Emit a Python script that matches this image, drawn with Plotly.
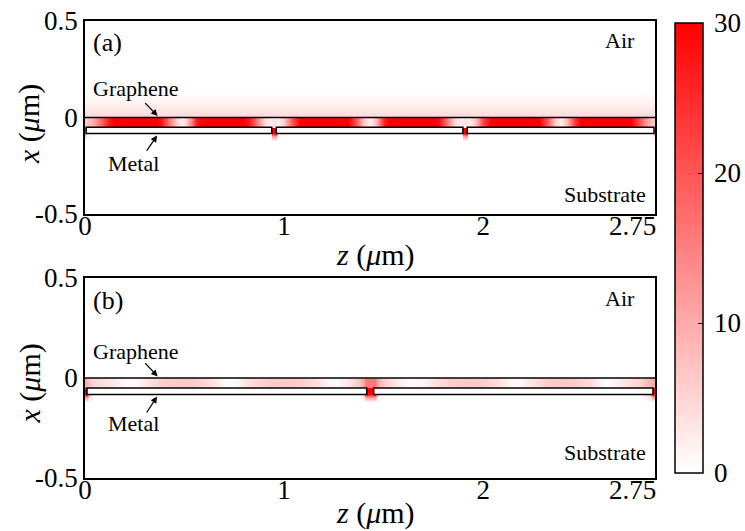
import plotly.graph_objects as go

# ---------------- data ----------------
# panel (a): samples along z (um), field in the graphene-metal gap, field in the metal slots
z_a = [0.000, 0.004, 0.010, 0.040, 0.080, 0.120, 0.160, 0.220, 0.280, 0.340, 0.380, 0.420,
       0.460, 0.480, 0.500, 0.530, 0.560, 0.600, 0.660, 0.720, 0.780, 0.830, 0.870, 0.905,
       0.932, 0.940, 0.959, 0.967, 1.000, 1.040, 1.080, 1.140, 1.200, 1.260, 1.320, 1.360,
       1.400, 1.430, 1.460, 1.500, 1.540, 1.600, 1.660, 1.720, 1.780, 1.820, 1.860, 1.892,
       1.900, 1.918, 1.926, 1.960, 2.000, 2.040, 2.100, 2.160, 2.220, 2.280, 2.320, 2.360,
       2.390, 2.420, 2.460, 2.500, 2.560, 2.620, 2.680, 2.740, 2.780, 2.820, 2.850, 2.856,
       2.863]
strip_a = [6, 6, 7, 10, 18, 27, 32, 34, 34, 32, 28, 16,
           5, 2, 4, 14, 26, 32, 34, 34, 32, 26, 14, 4,
           2, 3, 3, 2, 6, 20, 30, 34, 34, 34, 30, 20,
           6, 2, 8, 26, 32, 34, 34, 33, 28, 16, 4, 2,
           3, 3, 2, 6, 22, 30, 34, 34, 34, 30, 20, 6,
           2, 8, 24, 32, 34, 34, 33, 30, 22, 12, 7, 6,
           6]
slot_a = [15, 10, 0, 0, 0, 0, 0, 0, 0, 0, 0, 0,
          0, 0, 0, 0, 0, 0, 0, 0, 0, 0, 0, 0,
          0, 30, 30, 0, 0, 0, 0, 0, 0, 0, 0, 0,
          0, 0, 0, 0, 0, 0, 0, 0, 0, 0, 0, 0,
          30, 30, 0, 0, 0, 0, 0, 0, 0, 0, 0, 0,
          0, 0, 0, 0, 0, 0, 0, 0, 0, 0, 0, 10,
          15]

# panel (b)
z_b = [0.000, 0.008, 0.020, 0.040, 0.080, 0.130, 0.200, 0.260, 0.330, 0.400, 0.480, 0.560,
       0.630, 0.700, 0.750, 0.830, 0.920, 1.000, 1.080, 1.160, 1.220, 1.260, 1.320, 1.370,
       1.395, 1.410, 1.455, 1.470, 1.500, 1.560, 1.630, 1.700, 1.770, 1.850, 1.920, 2.000,
       2.070, 2.140, 2.180, 2.240, 2.320, 2.390, 2.460, 2.540, 2.600, 2.650, 2.740, 2.800,
       2.840, 2.855, 2.863]
strip_b = [10, 9, 7, 5, 4, 3, 0.5, 1, 4, 6, 6.5, 6,
           4, 1, 0.5, 4, 6, 6.5, 6, 4, 1, 0.5, 3, 6,
           10, 16, 16, 10, 6, 3, 0.5, 1, 4, 6, 6.5, 6,
           4, 1, 0.5, 3, 6, 6.5, 6, 4, 0.5, 1, 4, 6,
           9, 10, 10]
slot_b = [30, 30, 8, 0, 0, 0, 0, 0, 0, 0, 0, 0,
          0, 0, 0, 0, 0, 0, 0, 0, 0, 0, 0, 0,
          3, 30, 30, 3, 0, 0, 0, 0, 0, 0, 0, 0,
          0, 0, 0, 0, 0, 0, 0, 0, 0, 0, 0, 0,
          8, 30, 30]

# field in the air just above graphene (uniform along z)
air_x = [0.004, 0.03, 0.06, 0.09, 0.12, 0.15]
air_a = [4.5, 3.4, 2.2, 1.2, 0.4, 0.0]
air_b = [0.0, 0.0, 0.0, 0.0, 0.0, 0.0]

# geometry
metal_a = [(0.006, 0.938), (0.961, 1.898), (1.920, 2.858)]
metal_b = [(0.010, 1.415), (1.450, 2.853)]
metal_bottom, metal_top = -0.083, -0.050
graphene_x = 0.0
z_range = [0, 2.863]
x_range = [-0.5, 0.5]
z_ticks = [0, 1, 2, 2.75]
z_ticktext = ["0", "1", "2", "2.75"]
x_ticks = [-0.5, 0, 0.5]
x_ticktext = ["-0.5", "0", "0.5"]
cb_ticks = [0, 10, 20, 30]
cb_ticktext = ["0", "10", "20", "30"]
z_title = "<i>z</i> (<i>μ</i>m)"
x_title = "<i>x</i> (<i>μ</i>m)"

GLOW = 0.4
FONT = "Liberation Serif, Times New Roman, serif"


def build(zp, strip, slot, air):
    n = len(zp)
    zeros = [0.0] * n
    ys = [-0.5, metal_bottom - 0.037, metal_bottom - 0.012, metal_bottom + 0.002,
          metal_top - 0.002, metal_top + 0.002, graphene_x - 0.004] + air_x + [0.5]
    rows = [zeros, zeros, [s * GLOW for s in slot], list(slot), list(slot),
            list(strip), list(strip)] + [[a] * n for a in air] + [zeros]
    return ys, rows


ys_a, za = build(z_a, strip_a, slot_a, air_a)
ys_b, zb = build(z_b, strip_b, slot_b, air_b)

W, H = 745, 531
ML, MR, MT, MB = 85, 90, 21, 53
PW, PH = W - ML - MR, H - MT - MB

def px_x(px):
    return (px - ML) / PW

def px_y(py):
    return (H - MB - py) / PH

cs = [[0, "rgb(255,255,255)"], [1, "rgb(255,0,0)"]]
cb_top, cb_bot = 23, 473
cb_len = cb_bot - cb_top
cb_yc = px_y((cb_top + cb_bot) / 2)
cb_x = px_x(675)

fig = go.Figure()
fig.add_trace(go.Heatmap(x=z_a, y=ys_a, z=za, zmin=0, zmax=30, colorscale=cs,
                         zsmooth="best", xaxis="x", yaxis="y", hoverinfo="skip",
                         colorbar=dict(thickness=28, len=cb_len, lenmode="pixels",
                                       x=cb_x, xanchor="left", xpad=0,
                                       y=cb_yc, yanchor="middle", ypad=0,
                                       outlinecolor="black", outlinewidth=1.5,
                                       tickvals=cb_ticks, ticks="inside", ticklen=5,
                                       tickcolor="black", tickwidth=1.3,
                                       showticklabels=False)))
fig.add_trace(go.Heatmap(x=z_b, y=ys_b, z=zb, zmin=0, zmax=30, colorscale=cs,
                         zsmooth="best", xaxis="x2", yaxis="y2", showscale=False,
                         hoverinfo="skip"))

top_dom = [px_y(214), 1.0]
bot_dom = [0.0, px_y(278)]

axfont = dict(family=FONT, size=27, color="black")
titfont = dict(family=FONT, size=30, color="black")
common_x = dict(range=z_range, tickvals=z_ticks, ticktext=z_ticktext, showgrid=False,
                zeroline=False, showline=True, mirror=True, linecolor="black",
                linewidth=1.5, ticks="", tickfont=axfont, automargin=False,
                ticklabelstandoff=-13)
common_y = dict(range=x_range, tickvals=x_ticks, ticktext=x_ticktext, showgrid=False,
                zeroline=False, showline=True, mirror=True, linecolor="black",
                linewidth=1.5, ticks="", tickfont=axfont, automargin=False)

fig.update_layout(
    width=W, height=H, margin=dict(l=ML, r=MR, t=MT, b=MB, autoexpand=False),
    font=dict(family=FONT, color="black"),
    paper_bgcolor="white", plot_bgcolor="white", showlegend=False,
    xaxis=dict(common_x, anchor="y"),
    yaxis=dict(common_y, domain=top_dom, anchor="x"),
    xaxis2=dict(common_x, anchor="y2"),
    yaxis2=dict(common_y, domain=bot_dom, anchor="x2"),
)

shapes = []
for xr, yr, segs in (("x", "y", metal_a), ("x2", "y2", metal_b)):
    for z0, z1 in segs:
        shapes.append(dict(type="rect", xref=xr, yref=yr, x0=z0, x1=z1,
                           y0=metal_bottom, y1=metal_top, fillcolor="white",
                           line=dict(color="black", width=1.5), layer="above"))
    shapes.append(dict(type="line", xref=xr, yref=yr, x0=z_range[0], x1=z_range[1],
                       y0=graphene_x, y1=graphene_x, line=dict(color="black", width=1.5),
                       layer="above"))
# colorbar ticks on the left edge of the bar
for v in cb_ticks[1:-1]:
    yp = cb_yc + (v / 30 - 0.5) * cb_len / PH
    shapes.append(dict(type="line", xref="paper", yref="paper", x0=cb_x,
                       x1=cb_x + 5 / PW, y0=yp, y1=yp,
                       line=dict(color="black", width=1.3)))
fig.update_layout(shapes=shapes)

tf = dict(family=FONT, size=22, color="black")
ann = []
# colorbar tick labels
for v, t in zip(cb_ticks, cb_ticktext):
    yp = cb_yc + (v / 30 - 0.5) * cb_len / PH
    ann.append(dict(xref="paper", yref="paper", x=px_x(712), y=yp, text=t,
                    showarrow=False, xanchor="left", yanchor="middle", font=axfont))
# axis titles
for ty_z, ty_x in ((255, 124), (513, 383.5)):
    ann.append(dict(xref="paper", yref="paper", x=px_x(375.5), y=px_y(ty_z), text=z_title,
                    showarrow=False, xanchor="center", yanchor="middle", font=titfont))
    ann.append(dict(xref="paper", yref="paper", x=px_x(29), y=px_y(ty_x), text=x_title,
                    showarrow=False, xanchor="center", yanchor="middle", textangle=-90,
                    font=titfont))
for xr, yr, lab, sub_y, gy, my in (("x", "y", "(a)", -0.40, 0.15, -0.238),
                                    ("x2", "y2", "(b)", -0.37, 0.135, -0.228)):
    ann += [
        dict(xref=xr, yref=yr, x=0.028, y=0.39, text=lab, showarrow=False,
             xanchor="left", yanchor="middle", font=dict(family=FONT, size=26, color="black")),
        dict(xref=xr, yref=yr, x=2.773, y=0.397, text="Air", showarrow=False,
             xanchor="right", yanchor="middle", font=tf),
        dict(xref=xr, yref=yr, x=2.828, y=sub_y, text="Substrate", showarrow=False,
             xanchor="right", yanchor="middle", font=tf),
        dict(xref=xr, yref=yr, x=0.028, y=gy, text="Graphene", showarrow=False,
             xanchor="left", yanchor="middle", font=tf),
        dict(xref=xr, yref=yr, x=0.105, y=my, text="Metal", showarrow=False,
             xanchor="left", yanchor="middle", font=tf),
        dict(xref=xr, yref=yr, axref=xr, ayref=yr, x=0.365, y=0.008, ax=0.295, ay=0.082,
             text="", showarrow=True, arrowhead=2, arrowsize=1, arrowwidth=1.3,
             arrowcolor="black", standoff=0),
        dict(xref=xr, yref=yr, axref=xr, ayref=yr, x=0.362, y=-0.093, ax=0.305, ay=-0.18,
             text="", showarrow=True, arrowhead=2, arrowsize=1, arrowwidth=1.3,
             arrowcolor="black", standoff=0),
    ]
fig.update_layout(annotations=ann)

fig.write_html("out.html")
